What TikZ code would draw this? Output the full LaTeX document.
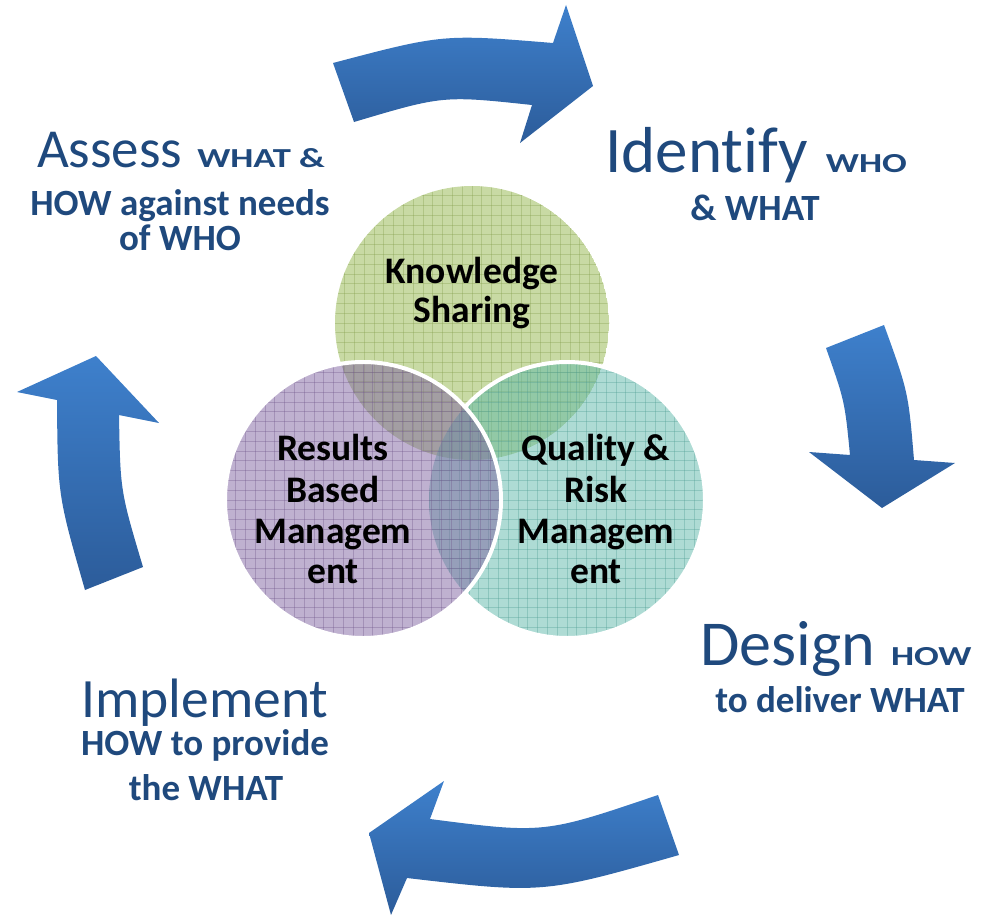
\documentclass[tikz,border=0pt]{standalone}
\usepackage{fontspec}
\setmainfont{Carlito}[Ligatures={NoCommon}]
\usepackage{graphicx}
\usetikzlibrary{calc}
\definecolor{txtblue}{HTML}{1F497D}
\definecolor{arrowtop}{HTML}{3E80CC}
\definecolor{arrowbot}{HTML}{2C5C9A}
\definecolor{kgreen}{HTML}{9BBB59}
\definecolor{rpurple}{HTML}{8064A2}
\definecolor{qteal}{HTML}{5DB8AA}
\newcommand{\fsc}[1]{\scalebox{1.33}[1]{\fontsize{27.5}{30}\selectfont\bfseries #1}}
\begin{document}
\begin{tikzpicture}[x=1pt,y=-1pt,
  bigtxt/.style={anchor=base, inner sep=0pt, text=txtblue},
  boldtxt/.style={bigtxt, font=\fontsize{37}{40}\selectfont\bfseries},
  circtxt/.style={anchor=base, inner sep=0pt, text=black, font=\fontsize{37.5}{40}\selectfont\bfseries},
  arrowshade/.style={top color=arrowtop, bottom color=arrowbot, draw=none},
  gridline/.style={line width=0.7pt, draw opacity=0.35},
  rim/.style={draw=white, line width=4pt}]
\useasboundingbox (0,0) rectangle (981,915);

% ---- arrows ----
\shade[arrowshade] (333,63) .. controls (443,34) .. (553,43) -- (566,5) -- (593,86) -- (520,143) -- (532,105) .. controls (443,95.5) .. (354,122) -- cycle;
\shade[arrowshade] (826,348) -- (884,325) .. controls (908.3,392) .. (914,460) -- (955,463) -- (882,508) -- (809,452) -- (850,455) .. controls (844.7,401) .. (826,348) -- cycle;
\shade[arrowshade] (658,795) -- (679,855) .. controls (543,893.8) .. (407,878) -- (391,915) -- (369,833) -- (444,781) -- (430,819) .. controls (544,833.7) .. (658,795) -- cycle;
\shade[arrowshade] (85,590) -- (143,567) .. controls (120.3,491) .. (119,415) -- (159,423) -- (96,356) -- (17,392) -- (57,400) .. controls (57.7,495) .. (85,590) -- cycle;

% ---- circles ----
\coordinate (K) at (472,323);
\coordinate (Q) at (567,500);
\coordinate (R) at (363,500);

\begin{scope}
  \clip (K) circle[radius=137];
  \fill[kgreen, fill opacity=0.55] (K) circle[radius=137];
  \foreach \i in {-15,...,15} {
    \draw[gridline, kgreen!85!black] ($(K)+(\i*9.8,-140)$) -- ++(0,280);
    \draw[gridline, kgreen!85!black] ($(K)+(-140,\i*9.8)$) -- ++(280,0);
  }
\end{scope}
\begin{scope}
  \clip (Q) circle[radius=138];
  \fill[qteal, fill opacity=0.5] (Q) circle[radius=138];
  \foreach \i in {-15,...,15} {
    \draw[gridline, qteal!85!black] ($(Q)+(\i*9.8,-140)$) -- ++(0,280);
    \draw[gridline, qteal!85!black] ($(Q)+(-140,\i*9.8)$) -- ++(280,0);
  }
\end{scope}
\begin{scope}
  \clip (R) circle[radius=138];
  \fill[rpurple, fill opacity=0.5] (R) circle[radius=138];
  \foreach \i in {-15,...,15} {
    \draw[gridline, rpurple!85!black] ($(R)+(\i*9.8,-140)$) -- ++(0,280);
    \draw[gridline, rpurple!85!black] ($(R)+(-140,\i*9.8)$) -- ++(280,0);
  }
\end{scope}
\draw[rim] (Q) ++(137.6:138) arc[start angle=137.6, end angle=-137.6, radius=138];
\draw[rim] (R) circle[radius=138];

% ---- circle texts ----
\node[circtxt] (k1) at (472,283) {Knowledge};
\node[circtxt] (k2) at (472,322) {Sharing};
\node[circtxt] (r1) at (333,460) {Results};
\node[circtxt] (r2) at (333,502) {Based};
\node[circtxt] (r3) at (333,543) {Managem};
\node[circtxt] (r4) at (333,583) {ent};
\node[circtxt] (q1) at (596,460) {Quality \&};
\node[circtxt] (q2) at (596,502) {Risk};
\node[circtxt] (q3) at (596,543) {Managem};
\node[circtxt] (q4) at (596,583) {ent};

% ---- outer texts ----
\node[bigtxt] (a1) at (181,167) {\fontsize{55}{60}\selectfont Assess\hspace{15pt}\fsc{WHAT \&}};
\node[boldtxt] (a2) at (180,215) {HOW against needs};
\node[boldtxt] (a3) at (180,250) {of WHO};

\node[bigtxt] (i1) at (756,172) {\fontsize{65}{70}\selectfont Identify\hspace{18pt}\fsc{WHO}};
\node[boldtxt] (i2) at (755,220) {\& WHAT};

\node[bigtxt] (d1) at (836,665) {\fontsize{64}{70}\selectfont Design\hspace{16pt}\fsc{HOW}};
\node[boldtxt] (d2) at (840,712) {to deliver WHAT};

\node[bigtxt, font=\fontsize{55.5}{60}\selectfont] (m1) at (205,717) {Implement};
\node[boldtxt] (m2) at (205,755) {HOW to provide};
\node[boldtxt] (m3) at (206,800) {the WHAT};
\end{tikzpicture}
\end{document}
